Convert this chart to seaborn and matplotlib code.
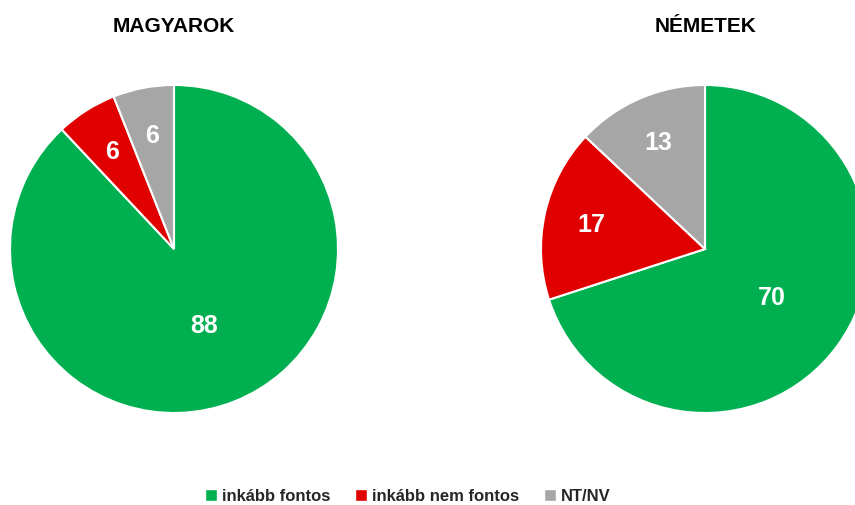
import matplotlib
matplotlib.use("Agg")
import matplotlib.pyplot as plt
import seaborn as sns
import numpy as np
from matplotlib.lines import Line2D

# Data
categories = ["inkább fontos", "inkább nem fontos", "NT/NV"]
groups = ["MAGYAROK", "NÉMETEK"]
magyarok = [88, 6, 6]
nemetek = [70, 17, 13]
colors = ["#00B050", "#E00000", "#A6A6A6"]

sns.set_theme(style="white")
plt.rcParams['font.family'] = ['Liberation Sans Narrow', 'Liberation Sans', 'DejaVu Sans']

fig = plt.figure(figsize=(8.55, 5.06), dpi=100)
W, H = 855, 506

def add_pie(cx, cy, r, values, title):
    ax = fig.add_axes([(cx - r) / W, (H - cy - r) / H, 2 * r / W, 2 * r / H])
    wedges, _ = ax.pie(values, colors=colors, startangle=90, counterclock=False,
                       wedgeprops=dict(edgecolor="white", linewidth=1.5))
    ax.set_xlim(-1, 1)
    ax.set_ylim(-1, 1)
    ax.set_aspect("equal")
    ax.axis("off")
    for w, v in zip(wedges, values):
        ang = np.deg2rad((w.theta1 + w.theta2) / 2)
        d = 0.5 if v > 50 else 0.71
        ax.text(d * np.cos(ang), d * np.sin(ang), str(v), color="white",
                fontsize=18, fontweight="bold", ha="center", va="center")
    fig.text(cx / W, 1 - 27 / H, title, ha="center", va="center",
             fontsize=15, fontweight="bold", color="black")
    return ax

add_pie(174, 250, 164, magyarok, groups[0])
add_pie(705, 250, 164, nemetek, groups[1])

handles = [Line2D([0], [0], marker="s", color="w", markerfacecolor=c,
                  markersize=8, linestyle="") for c in colors]
leg = fig.legend(handles, categories, loc="center", bbox_to_anchor=(405 / W, 1 - 497 / H),
                 ncol=3, frameon=False, handletextpad=0.0, columnspacing=1.2,
                 handlelength=1.3, prop=dict(size=12, weight="bold"))

fig.savefig("out.png", dpi=100, facecolor="white")
